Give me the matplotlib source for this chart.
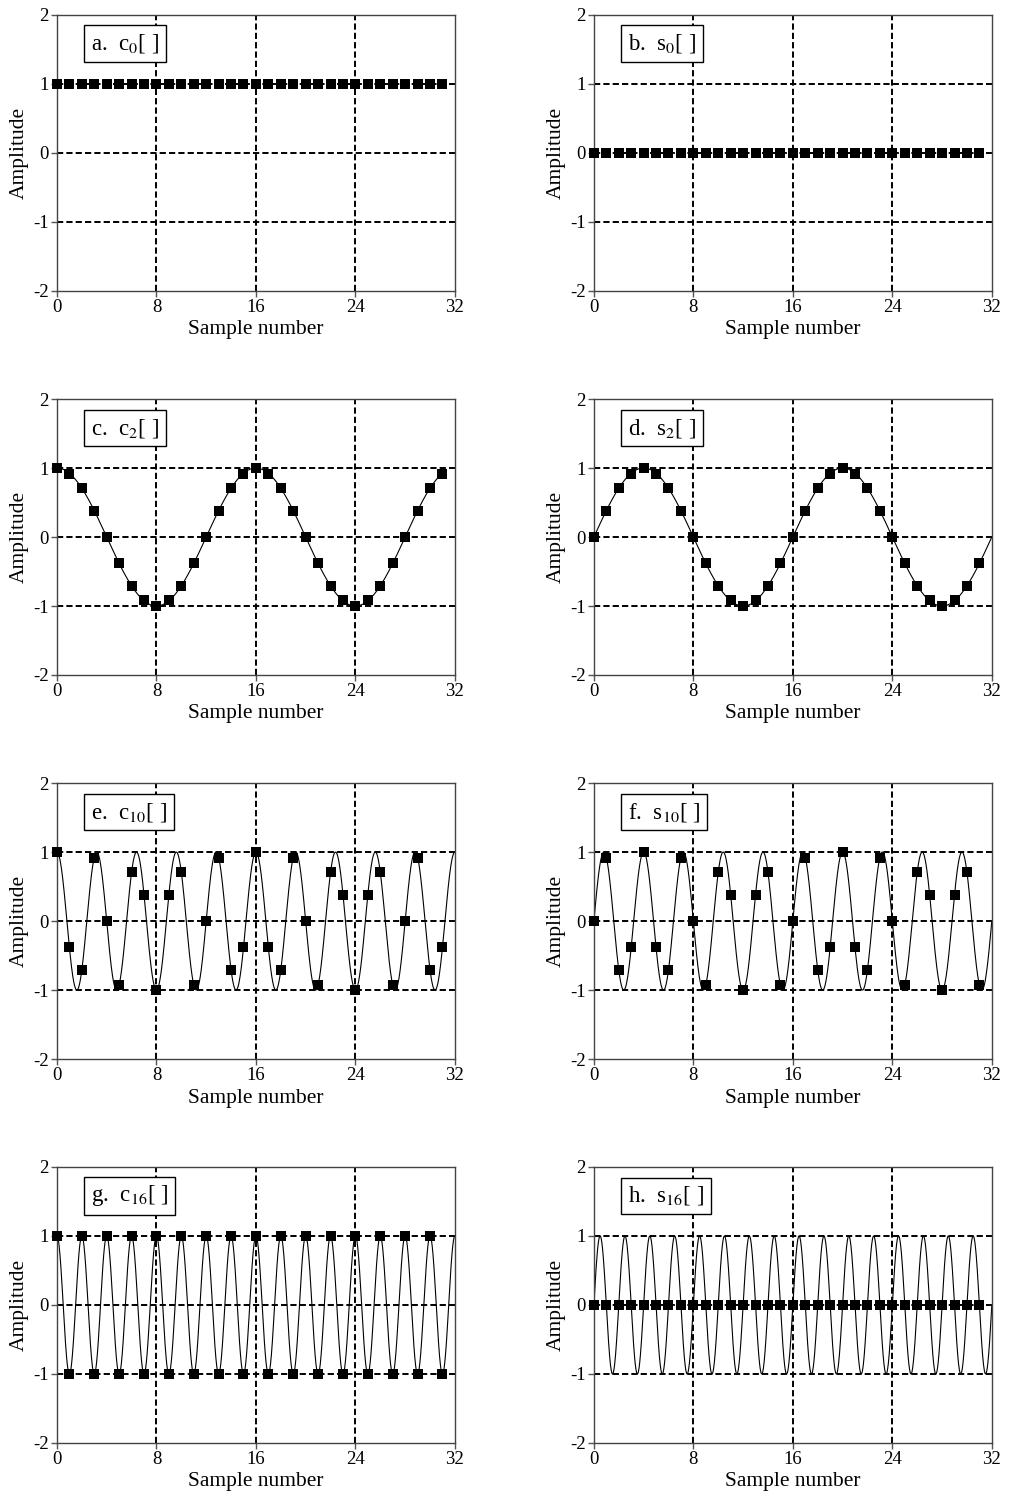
import numpy as np
import matplotlib
matplotlib.use('Agg')
import matplotlib.pyplot as plt

plt.rcParams['font.family'] = ['Liberation Serif', 'DejaVu Serif']
plt.rcParams['mathtext.fontset'] = 'stix'
plt.rcParams['axes.unicode_minus'] = False

# sample values (32 samples each)
samples = list(range(32))

c0 = [1.0] * 32
s0 = [0.0] * 32
c2 = [1, .92, .71, .38, 0, -.38, -.71, -.92, -1, -.92, -.71, -.38, 0, .38, .71, .92,
      1, .92, .71, .38, 0, -.38, -.71, -.92, -1, -.92, -.71, -.38, 0, .38, .71, .92]
s2 = [0, .38, .71, .92, 1, .92, .71, .38, 0, -.38, -.71, -.92, -1, -.92, -.71, -.38,
      0, .38, .71, .92, 1, .92, .71, .38, 0, -.38, -.71, -.92, -1, -.92, -.71, -.38]
c10 = [1, -.38, -.71, .92, 0, -.92, .71, .38, -1, .38, .71, -.92, 0, .92, -.71, -.38,
       1, -.38, -.71, .92, 0, -.92, .71, .38, -1, .38, .71, -.92, 0, .92, -.71, -.38]
s10 = [0, .92, -.71, -.38, 1, -.38, -.71, .92, 0, -.92, .71, .38, -1, .38, .71, -.92,
       0, .92, -.71, -.38, 1, -.38, -.71, .92, 0, -.92, .71, .38, -1, .38, .71, -.92]
c16 = [1, -1] * 16
s16 = [0.0] * 32

letters = ['a', 'b', 'c', 'd', 'e', 'f', 'g', 'h']
names = ['c', 's', 'c', 's', 'c', 's', 'c', 's']
freqs = [0, 0, 2, 2, 10, 10, 16, 16]
values = [c0, s0, c2, s2, c10, s10, c16, s16]
# end of the thin continuous curve (None = no curve drawn)
curve_end = [None, None, 31, 32, 32, 32, 32, 32]

xticks = [0, 8, 16, 24, 32]
yticks = [-2, -1, 0, 1, 2]

fig = plt.figure(figsize=(10.1, 14.99), dpi=100)

lefts = [0.0564, 0.588]
bottoms = [0.8061, 0.5497, 0.2935, 0.0374]
w, h = 0.394, 0.1841

for i in range(8):
    row, col = i // 2, i % 2
    ax = fig.add_axes([lefts[col], bottoms[row], w, h])
    k = freqs[i]

    # dashed reference lines
    for gx in [8, 16, 24]:
        ax.axvline(gx, color='black', lw=1.4, ls=(0, (3.2, 1.6)), zorder=1)
    for gy in [-1, 0, 1]:
        ax.axhline(gy, color='black', lw=1.4, ls=(0, (3.2, 1.6)), zorder=1)

    if curve_end[i] is not None:
        t = np.linspace(0, curve_end[i], 2000)
        if names[i] == 'c':
            yc = np.cos(2 * np.pi * k * t / 32)
        else:
            yc = np.sin(2 * np.pi * k * t / 32)
        ax.plot(t, yc, color='black', lw=0.8, zorder=2)

    ax.plot(samples, values[i], ls='none', marker='s', ms=7.2, mew=0, color='black',
            zorder=3, clip_on=False)

    ax.set_xlim(0, 32)
    ax.set_ylim(-2, 2)
    ax.set_xticks(xticks)
    ax.set_yticks(yticks)
    ax.tick_params(direction='out', length=4, width=1, colors='#555555',
                   labelcolor='black', labelsize=13.5, pad=2)
    for sp in ax.spines.values():
        sp.set_color('#444444')
        sp.set_linewidth(1.0)

    ax.set_xlabel('Sample number', fontsize=15.5, labelpad=3)
    ax.set_ylabel('Amplitude', fontsize=15.5, labelpad=3)

    label = letters[i] + '.  ' + names[i] + '$_{' + str(k) + '}$[ ]'
    ax.text(0.085, 0.895, label, transform=ax.transAxes, fontsize=16.5,
            ha='left', va='center',
            bbox=dict(boxstyle='square,pad=0.3', fc='white', ec='black', lw=1.0),
            zorder=5)

fig.savefig('out.png', dpi=100)
